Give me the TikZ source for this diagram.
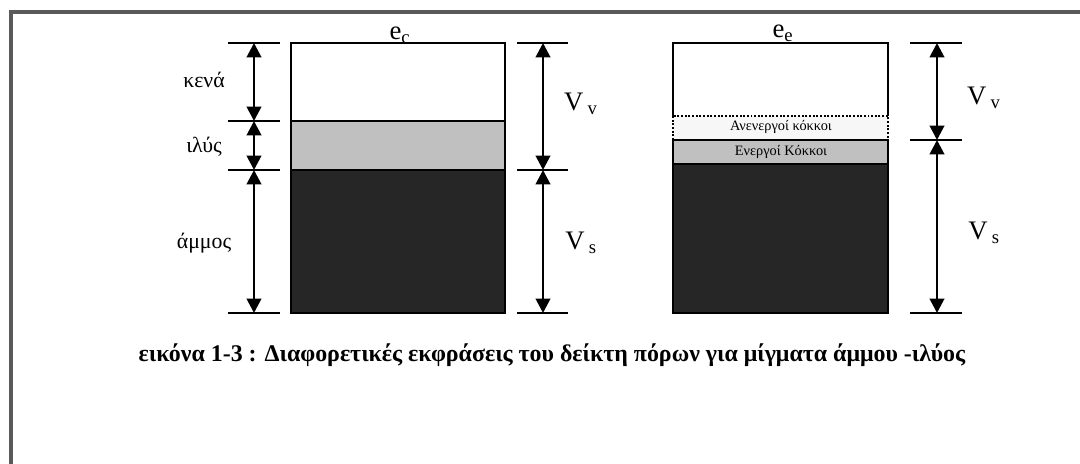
\documentclass[tikz,border=0pt]{standalone}
\usepackage{fontspec}
\setmainfont{Liberation Serif}
\usepackage{xcolor}
\usetikzlibrary{arrows.meta, positioning}

\definecolor{framegray}{HTML}{5A5A5A}
\definecolor{siltgray}{HTML}{C0C0C0}
\definecolor{sanddark}{HTML}{262626}

\begin{document}
\begin{tikzpicture}[
          x=0.025cm, y=-0.025cm,
          dimarrow/.style={{Triangle[width=0.36cm,length=0.36cm]}-{Triangle[width=0.36cm,length=0.36cm]}, line width=2pt},
          tick/.style={line width=1.6pt},
          layer/.style={draw, line width=1.6pt},
          sidelabel/.style={font=\fontsize{15.5}{18}\selectfont, inner sep=0pt},
          vollabel/.style={font=\fontsize{19}{22}\selectfont, inner sep=0pt},
          graintext/.style={font=\fontsize{10.2}{12}\selectfont, inner sep=0pt}
      ]
      \useasboundingbox (0,0) rectangle (1080,464);
      
      % Frame
      \draw[framegray, line width=0.11cm] (9,12) -- (1080,12);
      \draw[framegray, line width=0.11cm] (11,10) -- (11,464);
      
      % Left column e_c
      \draw[layer, fill=white] (291,43) rectangle (505,121);
      \draw[layer, fill=siltgray] (291,121) rectangle (505,170);
      \draw[layer, fill=sanddark] (291,170) rectangle (505,313);
      \node[font=\fontsize{19}{22}\selectfont, inner sep=0pt] (ec) at (400,35) {e\textsubscript{c}};
      
      % Right column e_e
      \draw[layer, fill=white] (673,116) -- (673,43) -- (888,43) -- (888,116);
      \draw[line width=1.6pt, dash pattern=on 1.4pt off 1.2pt, fill=white!97!black] (673,116) rectangle (888,140);
      \draw[layer, fill=siltgray] (673,140) rectangle (888,164);
      \draw[layer, fill=sanddark] (673,164) rectangle (888,313);
      \node[font=\fontsize{19}{22}\selectfont, inner sep=0pt] (ee) at (783,33) {e\textsubscript{e}};
      \node[graintext] (inactive) at (781,127) {Ανενεργοί κόκκοι};
      \node[graintext] (active) at (781,152) {Ενεργοί Κόκκοι};
      
      % Ticks, left side
      \foreach \name/\yy in {a/43, b/121, c/170, d/313} {
        \coordinate (l\name) at (254,\yy);
        \draw[tick] (228,\yy) -- (280,\yy);
      }
      % Ticks, middle
      \foreach \name/\yy in {a/43, c/170, d/313} {
        \coordinate (m\name) at (543,\yy);
        \draw[tick] (517,\yy) -- (568,\yy);
      }
      % Ticks, right side
      \foreach \name/\yy in {a/43, c/140, d/313} {
        \coordinate (r\name) at (937,\yy);
        \draw[tick] (910,\yy) -- (962,\yy);
      }
      
      % Dimension arrows
      \draw[dimarrow] (la) -- (lb);
      \draw[dimarrow] (lb) -- (lc);
      \draw[dimarrow] (lc) -- (ld);
      \draw[dimarrow] (ma) -- (mc);
      \draw[dimarrow] (mc) -- (md);
      \draw[dimarrow] (ra) -- (rc);
      \draw[dimarrow] (rc) -- (rd);
      
      % Labels
      \node[sidelabel] (voids) at (204,80) {κενά};
      \node[sidelabel] (silt) at (204,147) {ιλύς};
      \node[sidelabel] (sand) at (204,243) {άμμος};
      \node[vollabel] (vvl) at (581,104) {V\kern3pt\textsubscript{v}};
      \node[vollabel] (vsl) at (581,243) {V\kern3pt\textsubscript{s}};
      \node[vollabel] (vvr) at (984,98) {V\kern3pt\textsubscript{v}};
      \node[vollabel] (vsr) at (984,233) {V\kern3pt\textsubscript{s}};
      
      % Caption
      \node[font=\fontsize{17}{20}\selectfont\bfseries, inner sep=0pt] (caption) at (552,355)
        {εικόνα 1-3 : Διαφορετικές εκφράσεις του δείκτη πόρων για μίγματα άμμου -ιλύος};
      
      \end{tikzpicture}
\end{document}
